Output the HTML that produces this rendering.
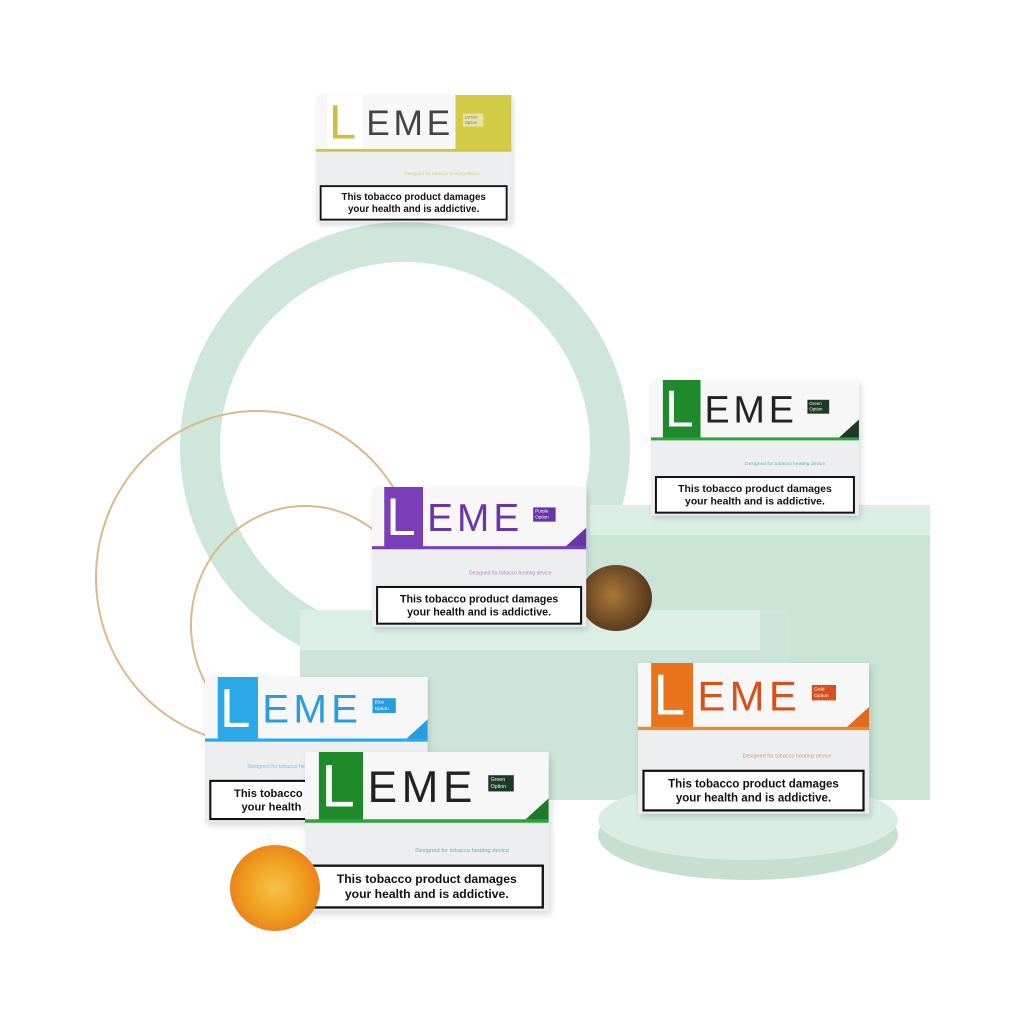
<!DOCTYPE html>
<html><head><meta charset="utf-8"><style>
body{margin:0;width:1024px;height:1024px;background:#fff;position:relative;overflow:hidden;font-family:"Liberation Sans",sans-serif}
.a{position:absolute}
.box{position:absolute;width:210px;height:137px;transform-origin:0 0;background:#eceef0;box-shadow:2px 3px 6px rgba(0,0,0,.15)}
.top{position:absolute;left:0;top:0;width:210px;height:60px;background:#f7f7f7}
.sq{position:absolute;left:12px;top:0;width:38px;height:60px}
.L{position:absolute;left:14px;top:4px;font-size:52px;line-height:52px;color:#fff;font-weight:300}
.eme{position:absolute;left:54px;top:12px;font-size:38px;line-height:38px;letter-spacing:4px;color:#222}
.tag{position:absolute;left:158px;top:20px;width:22px;height:14px;font-size:4.5px;line-height:6px;color:#fff;padding:1px 2px;box-sizing:border-box}
.tri{position:absolute;right:0;top:40px;width:0;height:0;border-left:22px solid transparent;border-bottom:20px solid}
.ln{position:absolute;left:0;top:58px;width:210px;height:3px}
.sm{position:absolute;left:95px;top:82px;font-size:5px}
.w{position:absolute;left:4px;top:97px;width:202px;height:38px;border:2px solid #111;box-sizing:border-box;background:#fff;text-align:center;font-weight:bold;font-size:10.5px;line-height:13px;padding-top:5px;color:#111}
</style></head><body>
<!-- ring -->
<div class="a" style="left:180px;top:222px;width:450px;height:450px;border-radius:50%;border:40px solid #cfe6da;box-sizing:border-box"></div>
<div class="a" style="left:95px;top:410px;width:325px;height:335px;border-radius:50%;border:2px solid #dcb98a;box-sizing:border-box"></div>
<div class="a" style="left:190px;top:505px;width:230px;height:240px;border-radius:50%;border:2px solid #dcb98a;box-sizing:border-box"></div>
<!-- blocks -->
<div class="a" style="left:590px;top:505px;width:340px;height:295px;background:#c9e3d5"></div>
<div class="a" style="left:590px;top:505px;width:340px;height:30px;background:#dbeee4"></div>
<div class="a" style="left:300px;top:610px;width:490px;height:190px;background:#cde5d8"></div>
<div class="a" style="left:300px;top:610px;width:460px;height:40px;background:#dcefe5"></div>
<div class="a" style="left:598px;top:790px;width:300px;height:90px;border-radius:50%;background:#c6dfd1"></div>
<div class="a" style="left:598px;top:780px;width:300px;height:80px;border-radius:50%;background:#d9ede2"></div>

<!-- lemon -->
<div class="box" style="left:316px;top:95px;transform:scale(.93)">
<div class="top"><div class="sq" style="background:#fff"></div><div class="L" style="color:#c9c23a">L</div><div class="eme" style="color:#444">EME</div><div class="a" style="left:150px;top:0;width:60px;height:60px;background:#d2cb45"></div><div class="tag" style="background:#e8e3a0;color:#777">Lemon Option</div><div class="ln" style="background:#cfc640"></div></div>
<div class="sm" style="color:#d8cf80">Designed for tobacco heating device</div>
<div class="w">This tobacco product damages<br>your health and is addictive.</div></div>

<!-- green top -->
<div class="box" style="left:651px;top:380px;transform:scale(.99)">
<div class="top"><div class="sq" style="background:#1f8a2a"></div><div class="L">L</div><div class="eme">EME</div><div class="tag" style="background:#1d3a25">Green Option</div><div class="tri" style="border-bottom-color:#1d3a25"></div><div class="ln" style="background:#2aa43a"></div></div>
<div class="sm" style="color:#6fb39a">Designed for tobacco heating device</div>
<div class="w">This tobacco product damages<br>your health and is addictive.</div></div>

<!-- plum -->
<div class="a" style="left:580px;top:565px;width:72px;height:66px;border-radius:50%;background:radial-gradient(circle at 45% 45%,#a8783a,#5a3a1e 70%,#2d1a12)"></div>

<!-- purple -->
<div class="box" style="left:372px;top:487px;transform:scale(1.02)">
<div class="top"><div class="sq" style="background:#7a3fb8"></div><div class="L">L</div><div class="eme" style="color:#6a35a8">EME</div><div class="tag" style="background:#6a35a8">Purple Option</div><div class="tri" style="border-bottom-color:#6a35a8"></div><div class="ln" style="background:#7a3fb8"></div></div>
<div class="sm" style="color:#b08ad0">Designed for tobacco heating device</div>
<div class="w">This tobacco product damages<br>your health and is addictive.</div></div>

<!-- orange -->
<div class="box" style="left:638px;top:663px;transform:scale(1.10)">
<div class="top"><div class="sq" style="background:#e8751e"></div><div class="L">L</div><div class="eme" style="color:#d9501a">EME</div><div class="tag" style="background:#d9501a">Gold Option</div><div class="tri" style="border-bottom-color:#e06a20"></div><div class="ln" style="background:#ea8a2a"></div></div>
<div class="sm" style="color:#d89a70">Designed for tobacco heating device</div>
<div class="w">This tobacco product damages<br>your health and is addictive.</div></div>

<!-- blue -->
<div class="box" style="left:205px;top:677px;transform:scale(1.06)">
<div class="top"><div class="sq" style="background:#2aa8e8"></div><div class="L">L</div><div class="eme" style="color:#2a9ce0">EME</div><div class="tag" style="background:#2a9ce0">Blue Option</div><div class="tri" style="border-bottom-color:#2a9ce0"></div><div class="ln" style="background:#2aa8e8"></div></div>
<div class="sm" style="left:40px;color:#7ac0e8">Designed for tobacco heating device</div>
<div class="w">This tobacco product damages<br>your health and is addictive.</div></div>

<!-- green front -->
<div class="box" style="left:305px;top:752px;transform:scale(1.16)">
<div class="top"><div class="sq" style="background:#1f8a2a"></div><div class="L">L</div><div class="eme">EME</div><div class="tag" style="background:#1d3a25">Green Option</div><div class="tri" style="border-bottom-color:#1d7a2a"></div><div class="ln" style="background:#2aa43a"></div></div>
<div class="sm" style="color:#6fb39a">Designed for tobacco heating device</div>
<div class="w">This tobacco product damages<br>your health and is addictive.</div></div>

<!-- orange fruit -->
<div class="a" style="left:230px;top:845px;width:90px;height:86px;border-radius:50%;background:radial-gradient(circle,#f6c24a 0,#f0a020 45%,#e8801a 75%,#c85a10)"></div>
</body></html>
